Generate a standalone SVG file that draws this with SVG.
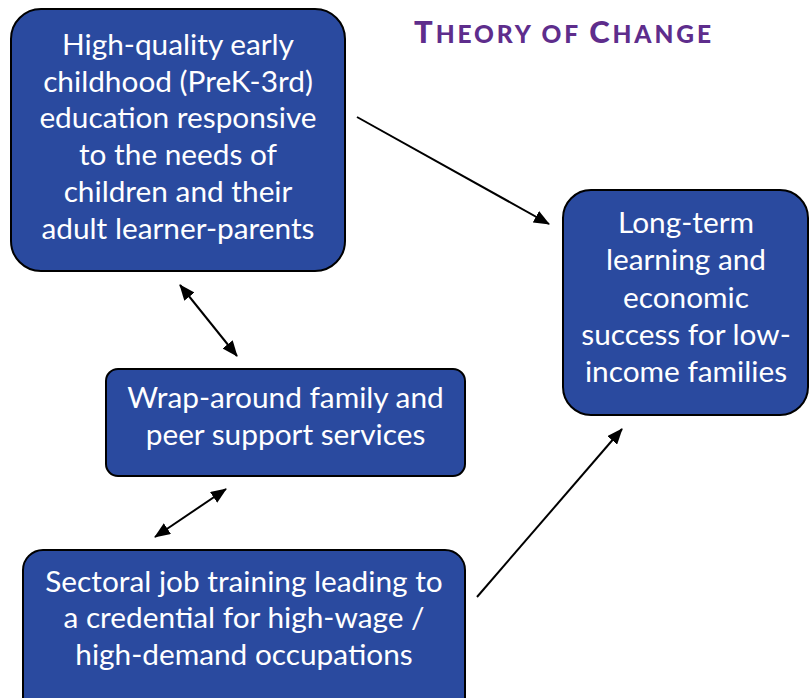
<svg xmlns="http://www.w3.org/2000/svg" width="809" height="698" viewBox="0 0 809 698">
<defs>
<marker id="ah" viewBox="0 0 16 13" refX="15" refY="6.5" markerWidth="16" markerHeight="13" markerUnits="userSpaceOnUse" orient="auto-start-reverse">
<path d="M0,0 L16,6.5 L0,13 z" fill="#000"/>
</marker>
<style>
.box{fill:#2A4A9F;stroke:#000;stroke-width:2}
.t{font-family:Lato,"Open Sans",sans-serif;font-size:29.8px;fill:#fff;text-anchor:middle}
.c{stroke:#000;stroke-width:2;fill:none}
.title{font-family:Lato,"Liberation Sans",sans-serif;font-weight:900;fill:#5E2D8C}
</style>
</defs>
<rect width="809" height="698" fill="#fff"/>
<text class="title" x="414" y="43" textLength="297" lengthAdjust="spacing"><tspan font-size="31">T</tspan><tspan font-size="24.5">HEORY OF </tspan><tspan font-size="31">C</tspan><tspan font-size="24.5">HANGE</tspan></text>
<g id="connectors">
<line class="c" x1="357" y1="117" x2="549" y2="224" marker-end="url(#ah)"/>
<line class="c" x1="477" y1="597" x2="622" y2="429" marker-end="url(#ah)"/>
<line class="c" x1="180" y1="285" x2="237" y2="356" marker-start="url(#ah)" marker-end="url(#ah)"/>
<line class="c" x1="155" y1="537" x2="226" y2="489" marker-start="url(#ah)" marker-end="url(#ah)"/>
</g>
<g id="node-early">
<rect class="box" x="11" y="9" width="334" height="262" rx="30"/>
<text class="t"><tspan x="178" y="55">High-quality early</tspan><tspan x="178" y="92">childhood (PreK-3rd)</tspan><tspan x="178" y="128">education responsive</tspan><tspan x="178" y="165">to the needs of</tspan><tspan x="178" y="202">children and their</tspan><tspan x="178" y="239">adult learner-parents</tspan></text>
</g>
<g id="node-wrap">
<rect class="box" x="106" y="369" width="359" height="107" rx="12"/>
<text class="t"><tspan x="285.5" y="408">Wrap-around family and</tspan><tspan x="285.5" y="445">peer support services</tspan></text>
</g>
<g id="node-longterm">
<rect class="box" x="563" y="190" width="245" height="225" rx="28"/>
<text class="t"><tspan x="686" y="233">Long-term</tspan><tspan x="686" y="270">learning and</tspan><tspan x="686" y="308">economic</tspan><tspan x="686" y="345">success for low-</tspan><tspan x="686" y="382">income families</tspan></text>
</g>
<g id="node-sectoral">
<rect class="box" x="23" y="550" width="442" height="170" rx="20"/>
<text class="t"><tspan x="244" y="592">Sectoral job training leading to</tspan><tspan x="244" y="628">a credential for high-wage /</tspan><tspan x="244" y="665">high-demand occupations</tspan></text>
</g>
</svg>
